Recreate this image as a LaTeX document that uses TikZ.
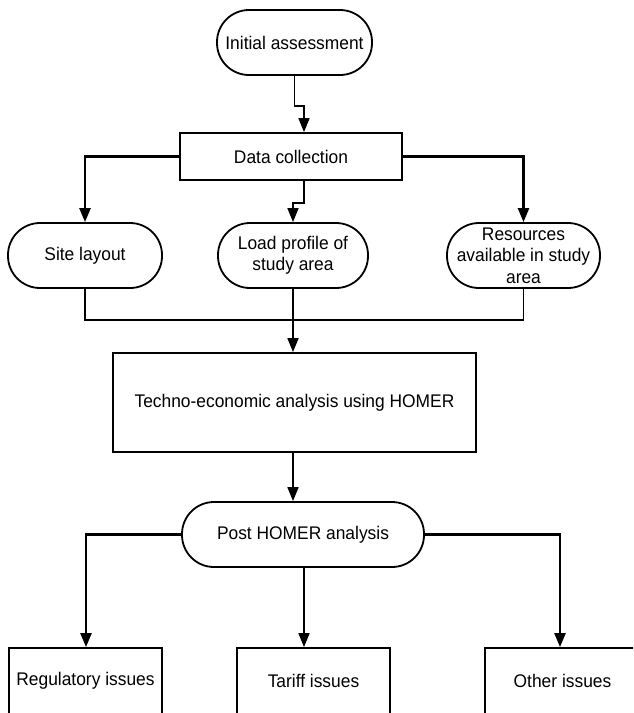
\documentclass[tikz,border=0pt]{standalone}
\usepackage{fontspec}
\setmainfont{Liberation Sans}[FakeStretch=0.95]
\usetikzlibrary{arrows.meta,calc}
\begin{document}
\begin{tikzpicture}[x=1pt,y=-1pt,
  every node/.style={font=\fontsize{18.3}{21.5}\selectfont, align=center, inner sep=0pt},
  boxnode/.style={draw, line width=1.8pt, rectangle},
  pill/.style={draw, line width=1.8pt, rectangle, rounded corners=32pt, minimum height=65pt},
  conn/.style={line width=1.7pt},
  arr/.style={line width=1.7pt, -{Triangle[length=14pt,width=11pt]}},
  thickarr/.style={line width=2.4pt, -{Triangle[length=14pt,width=11pt]}}]
\clip (0,0) rectangle (633,713);
\fill[white] (0,0) rectangle (633,713);

% nodes
\node[pill, minimum width=155pt] (init) at (294.5,42.5) {Initial assessment};
\node[boxnode, minimum width=222pt, minimum height=47pt] (data) at (291,156.5) {Data collection};
\node[pill, minimum width=154pt] (site) at (85,255.5) {Site layout};
\node[pill, minimum width=150pt] (load) at (293,255.5) {Load profile of\\study area};
\node[pill, minimum width=153pt] (res) at (523.5,255.5) {Resources\\available in study\\area};
\node[boxnode, minimum width=363pt, minimum height=99pt] (tech) at (294.5,402.5) {Techno-economic analysis using HOMER};
\node[pill, minimum width=242pt] (post) at (303,534.5) {Post HOMER analysis};
\node[boxnode, minimum width=153pt, minimum height=66pt] (reg) at (85.5,681) {Regulatory issues};
\node[boxnode, minimum width=153pt, minimum height=66pt] (tar) at (313.5,681) {Tariff issues};
\node[boxnode, minimum width=155pt, minimum height=66pt] (oth) at (562.5,681) {Other issues};

% helper coordinates for connector columns
\coordinate (cx304) at (304,0);
\coordinate (cx86) at (86,0);
\coordinate (cx560) at (560,0);

% connectors
\draw[arr] (init.south) -- ++(0,30) -| (data.north -| cx304);
\draw[thickarr] (data.west) -| (site.north);
\draw[thickarr] (data.east) -| (res.north);
\draw[arr] (data.south -| cx304) -- ++(0,22) -| (load.north);
\draw[conn] (site.south) -- ++(0,31) -| (res.south);
\draw[arr] (load.south) -- (load.south |- tech.north);
\draw[arr] (tech.south -| load.south) -- (post.north -| load.south);
\draw[thickarr] (post.west) -| (reg.north -| cx86);
\draw[thickarr] (post.east) -| (oth.north -| cx560);
\draw[arr] (post.south -| cx304) -- (tar.north -| cx304);
\end{tikzpicture}
\end{document}
